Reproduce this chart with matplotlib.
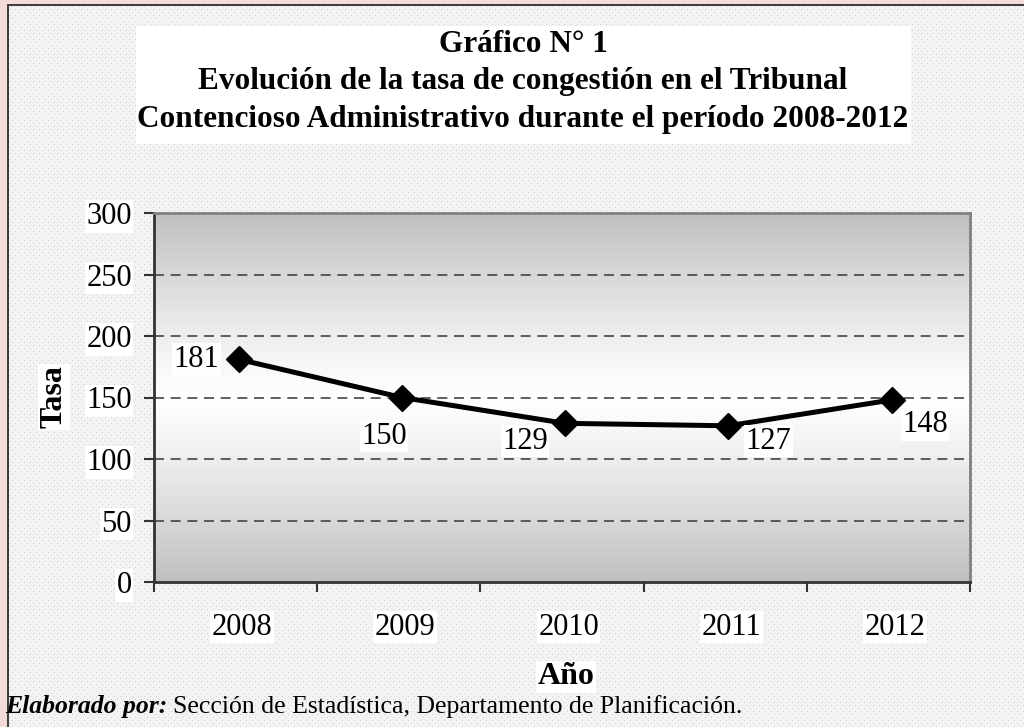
import numpy as np
import matplotlib
matplotlib.use('Agg')
import matplotlib.pyplot as plt
from matplotlib.patches import Rectangle

# data
years = ['2008', '2009', '2010', '2011', '2012']
tasa = [181, 150, 129, 127, 148]
# label offsets in points (dx, dy)
label_offsets = [(-14, 0), (-13, -28), (-29, -13), (29, -11), (24, -18)]
label_ha = ['right', 'center', 'center', 'center', 'center']

plt.rcParams['font.family'] = ['Liberation Serif', 'DejaVu Serif']

W, H = 1024, 727
fig = plt.figure(figsize=(W / 100, H / 100), dpi=100)

# dotted background with frame
bg = np.full((H, W, 3), 0.955)
yy, xx = np.mgrid[0:H, 0:W]
dots = ((yy % 6 == 0) & (xx % 6 == 0)) | ((yy % 6 == 3) & (xx % 6 == 3))
bg[dots] = 0.82
bg[:4, :] = [0.95, 0.86, 0.85]
bg[:, :7] = [0.95, 0.86, 0.85]
bg[4:6, 7:] = 0.25
bg[4:, 7:9] = 0.25
fig.figimage(bg, 0, 0, zorder=-10)

# title box
fig.add_artist(Rectangle((136 / W, 1 - 144 / H), (911 - 136) / W, (144 - 26) / H,
                         transform=fig.transFigure, facecolor='white',
                         edgecolor='none', zorder=1))
title_lines = ['Gráfico N° 1',
               'Evolución de la tasa de congestión en el Tribunal',
               'Contencioso Administrativo durante el período 2008-2012']
for i, line in enumerate(title_lines):
    fig.text(523 / W, 1 - (45 + 37 * i) / H, line, ha='center', va='center',
             fontsize=22.5, fontweight='bold', zorder=2)

ax = fig.add_axes([154 / W, 1 - 582 / H, (970 - 154) / W, (582 - 213) / H])
ax.set_facecolor('none')

x = np.arange(len(years))
ax.set_xlim(-0.5, len(years) - 0.5)
ax.set_ylim(0, 300)

# gradient fill of plot area: gray - white - gray
g = np.abs(np.linspace(-1, 1, 300))[:, None]
shade = 1 - 0.25 * g ** 1.2
grad = np.dstack([shade, shade, shade])
ax.imshow(grad, extent=[-0.5, len(years) - 0.5, 0, 300], aspect='auto',
          origin='lower', zorder=0)

for yv in [50, 100, 150, 200, 250]:
    ax.axhline(yv, color='#444444', lw=1.2, dashes=(6, 4), zorder=1)

ax.plot(x + 0.02, tasa, color='black', lw=3.6, marker='D', markersize=13, zorder=3)

for xi, v, (dx, dy), ha in zip(x + 0.02, tasa, label_offsets, label_ha):
    ax.annotate(str(v), (xi, v), xytext=(dx, dy), textcoords='offset points',
                ha=ha, va='center', fontsize=22, zorder=4,
                bbox=dict(facecolor='white', edgecolor='none', pad=1))

ax.set_yticks([0, 50, 100, 150, 200, 250, 300])
ax.set_xticks(np.arange(-0.5, len(years)))
ax.set_xticklabels([])
ax.set_xticks(x + 0.04, minor=True)
ax.set_xticklabels(years, minor=True)
ax.tick_params(axis='x', which='minor', length=0, pad=22, labelsize=22)
ax.tick_params(axis='x', which='major', length=7, width=1.5, color='#333333')
ax.tick_params(axis='y', length=7, width=1.5, color='#333333', pad=9, labelsize=22)
for lbl in ax.get_yticklabels() + ax.get_xticklabels(minor=True):
    lbl.set_bbox(dict(facecolor='white', edgecolor='none', pad=1))

for s in ['left', 'bottom']:
    ax.spines[s].set_color('#333333')
    ax.spines[s].set_linewidth(2)
for s in ['top', 'right']:
    ax.spines[s].set_color('#808080')
    ax.spines[s].set_linewidth(2)

fig.text(54 / W, 1 - 397 / H, 'Tasa', rotation=90, ha='center', va='center',
         fontsize=23, fontweight='bold',
         bbox=dict(facecolor='white', edgecolor='none', pad=1))
fig.text(566 / W, 1 - 677 / H, 'Año', ha='center', va='center',
         fontsize=23, fontweight='bold',
         bbox=dict(facecolor='white', edgecolor='none', pad=1))

t1 = fig.text(5 / W, 1 - 707 / H, 'Elaborado por:', ha='left', va='center',
              fontsize=18.5, fontweight='bold', fontstyle='italic')
fig.canvas.draw()
bb = t1.get_window_extent()
fig.text((bb.x1 + 6) / W, 1 - 707 / H,
         'Sección de Estadística, Departamento de Planificación.',
         ha='left', va='center', fontsize=18.5)

fig.savefig('out.png', dpi=100)
